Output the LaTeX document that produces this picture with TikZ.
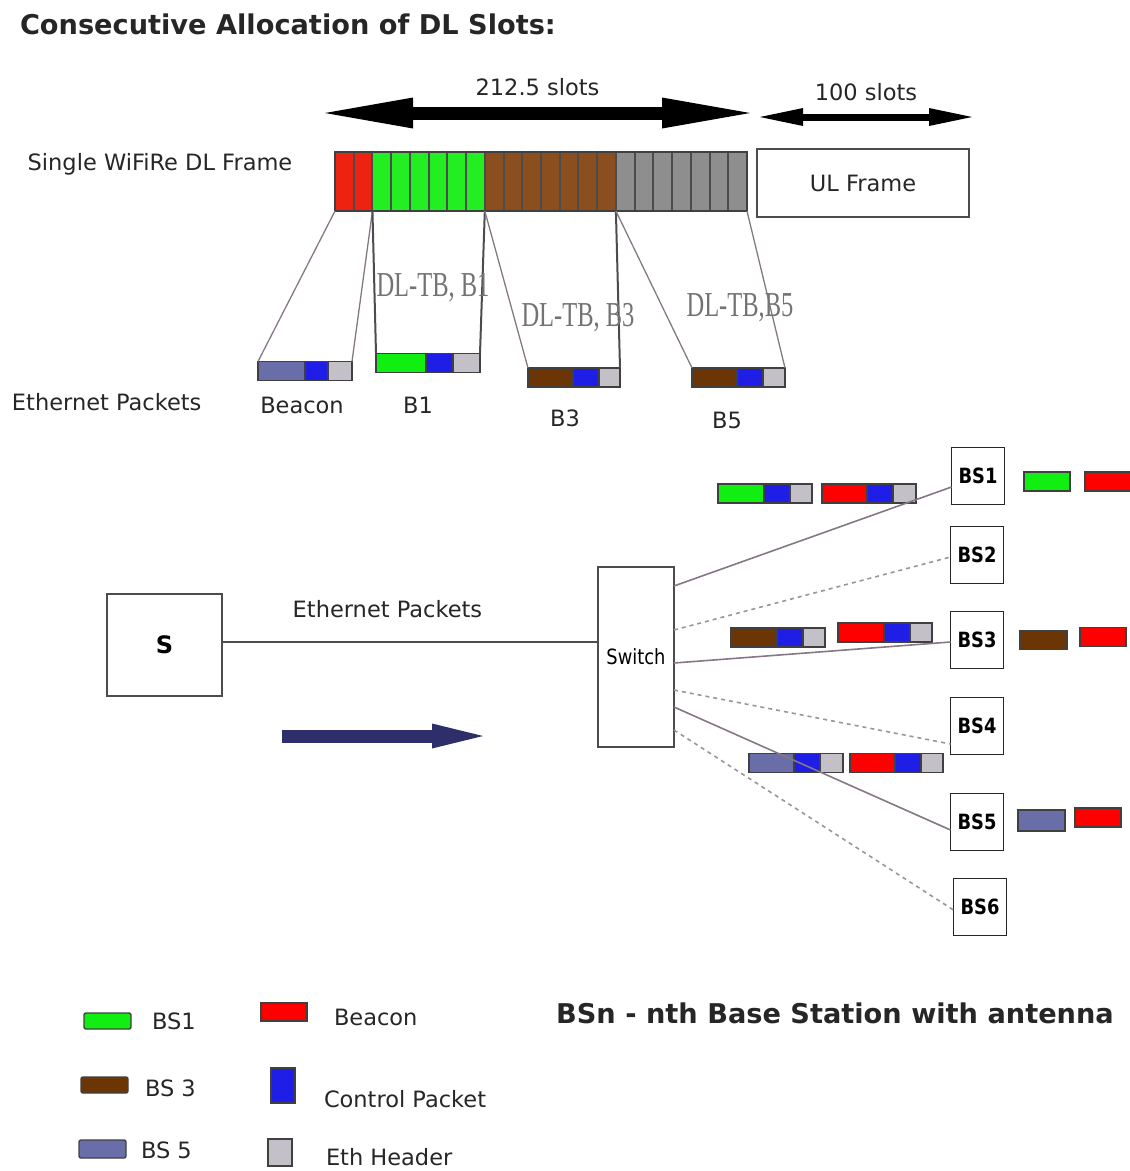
\documentclass[tikz,border=0pt]{standalone}
\usepackage{fontspec}
\setmainfont{DejaVu Sans}
\newfontfamily\narrowfont[FakeStretch=0.85]{DejaVu Sans}
\newfontfamily\tbfont[FakeStretch=0.7]{Liberation Serif}
\usetikzlibrary{positioning,arrows.meta,calc}

\definecolor{slotred}{HTML}{EE2211}
\definecolor{slotgreen}{HTML}{22EE22}
\definecolor{slotbrown}{HTML}{8B4E1E}
\definecolor{slotgrey}{HTML}{8E8E8E}
\definecolor{pktgreen}{HTML}{11EE11}
\definecolor{pktred}{HTML}{FF0000}
\definecolor{pktbrown}{HTML}{6B3505}
\definecolor{pktslate}{HTML}{6A6EA8}
\definecolor{ctrlblue}{HTML}{1E1EE6}
\definecolor{hdrgrey}{HTML}{C4C0C8}
\definecolor{linkgrey}{HTML}{857885}
\definecolor{flownavy}{HTML}{2E2E6A}

\begin{document}
\begin{tikzpicture}[x=1pt, y=-1pt,
  every node/.style={inner sep=0pt, outer sep=0pt},
  txt/.style={font=\fontsize{22.5}{26}\selectfont, text=black!85},
  heading/.style={font=\bfseries\fontsize{27.2}{31}\selectfont, text=black!85},
  tblabel/.style={font=\tbfont\fontsize{35}{38}\selectfont, text=black!55},
  slotbox/.style={draw=black!70, line width=2pt, minimum width=18.727pt, minimum height=59pt},
  payload/.style={draw=black!75, line width=1.4pt, minimum height=19pt, minimum width=46pt},
  framebox/.style={draw=black!70, line width=2pt, fill=white},
  bsbox/.style={draw=black!85, line width=1.5pt, minimum width=53pt, minimum height=57pt,
                font=\narrowfont\bfseries\fontsize{21}{24}\selectfont},
  thinline/.style={draw=linkgrey, line width=1.3pt},
  darkline/.style={draw=black!70, line width=2pt},
  link/.style={draw=linkgrey, line width=1.6pt},
  idlelink/.style={draw=linkgrey!80, line width=1.6pt, dash pattern=on 4pt off 4pt}
]
  \useasboundingbox (0,0) rectangle (1130,1171);

  % ---- DL frame
  \node[heading, anchor=west] (title) at (20,24) {Consecutive Allocation of DL Slots:};
  \node[txt] (dlname) at (160,164) {Single WiFiRe DL Frame};
  \foreach \i in {1,2}
    \node[slotbox, fill=slotred] (slot\i) at ({335+18.727*(\i-0.5)},181.5) {};
  \foreach \i in {3,...,8}
    \node[slotbox, fill=slotgreen] (slot\i) at ({335+18.727*(\i-0.5)},181.5) {};
  \foreach \i in {9,...,15}
    \node[slotbox, fill=slotbrown] (slot\i) at ({335+18.727*(\i-0.5)},181.5) {};
  \foreach \i in {16,...,22}
    \node[slotbox, fill=slotgrey] (slot\i) at ({335+18.727*(\i-0.5)},181.5) {};
  \draw[line width=2pt, black!75] (slot1.north west) rectangle (slot22.south east);
  \node[framebox, txt, minimum width=212pt, minimum height=68pt] (ulframe) at (863,183) {UL Frame};

  \coordinate (dlL) at (325,113);
  \coordinate (dlR) at (750,113);
  \draw[line width=13pt, {Triangle[length=88pt, width=31pt, line width=0pt]}-{Triangle[length=88pt, width=31pt, line width=0pt]}]
    (dlL) -- node[txt, above=17pt] (dllen) {212.5 slots} (dlR);
  \coordinate (ulL) at (760,117);
  \coordinate (ulR) at (972,117);
  \draw[line width=7pt, {Triangle[length=43pt, width=18pt, line width=0pt]}-{Triangle[length=43pt, width=18pt, line width=0pt]}]
    (ulL) -- node[txt, above=16pt] (ullen) {100 slots} (ulR);

  % ---- ethernet packets: payload, control packet, eth header
  \foreach \nm/\px/\py/\col/\wp/\wc/\wh in {
      bcn/258/371/pktslate/47/23/24,
      b1/376/363/pktgreen/50/27/27,
      b3/528/377.5/pktbrown/45/26/21,
      b5/692/377.5/pktbrown/45/26/22,
      tx1g/718/493.5/pktgreen/46/26/22,
      tx1r/822/493.5/pktred/45/26/23,
      tx3b/731/637.5/pktbrown/46/26/22,
      tx3r/838/632.5/pktred/46/26/22,
      tx5s/749/763/pktslate/45/26/23,
      tx5r/850/763/pktred/45/26/22} {
    \node[payload, fill=\col, minimum width=\wp pt, anchor=west] (\nm) at (\px,\py) {};
    \node[payload, fill=ctrlblue, minimum width=\wc pt, right=0pt of \nm] (\nm-c) {};
    \node[payload, fill=hdrgrey, minimum width=\wh pt, right=0pt of \nm-c] (\nm-h) {};
  }

  \draw[thinline] (slot1.south west) -- (bcn.north west);
  \draw[thinline] (slot2.south east) -- (bcn-h.north east);
  \draw[darkline] (slot3.south west) -- (b1.north west);
  \draw[darkline] (slot8.south east) -- (b1-h.north east);
  \draw[thinline] (slot9.south west) -- (b3.north west);
  \draw[darkline] (slot15.south east) -- (b3-h.north east);
  \draw[thinline] (slot16.south west) -- (b5.north west);
  \draw[thinline] (slot22.south east) -- (b5-h.north east);

  \node[tblabel] (tb1) at (433,288) {DL-TB, B1};
  \node[tblabel] (tb3) at (578,318) {DL-TB, B3};
  \node[tblabel] (tb5) at (740,308) {DL-TB,B5};

  \node[txt, anchor=west] (ethlbl) at (12,402) {Ethernet Packets};
  \node[txt] (bcnlbl) at (302,405) {Beacon};
  \node[txt] (b1lbl) at (418,405) {B1};
  \node[txt] (b3lbl) at (565,418) {B3};
  \node[txt] (b5lbl) at (727,420) {B5};

  % ---- source, switch and base stations
  \node[framebox, minimum width=115pt, minimum height=102pt,
        font=\bfseries\fontsize{24}{28}\selectfont] (src) at (164.5,644.5) {S};
  \node[framebox, minimum width=76pt, minimum height=180pt,
        font=\narrowfont\fontsize{21}{24}\selectfont] (switch) at (636,657) {Switch};
  \draw[darkline] ($(src.east)+(0,-3)$) -- node[txt, pos=0.44, above=24pt] (ethlbl2) {Ethernet Packets}
    ($(src.east -| switch.west)+(0,-3)$);

  \node[bsbox] (bs1) at (978,476) {BS1};
  \node[bsbox] (bs2) at (977,555) {BS2};
  \node[bsbox] (bs3) at (977,640) {BS3};
  \node[bsbox] (bs4) at (977,726) {BS4};
  \node[bsbox] (bs5) at (977,822) {BS5};
  \node[bsbox] (bs6) at (980,907) {BS6};

  \draw[link] ($(switch.north east)+(0,19)$) -- ($(bs1.west)+(0,11)$);
  \draw[idlelink] ($(switch.north east)+(0,63)$) -- ($(bs2.west)+(0,2)$);
  \draw[link] ($(switch.north east)+(0,96)$) -- ($(bs3.west)+(0,2)$);
  \draw[idlelink] ($(switch.north east)+(0,123)$) -- ($(bs4.west)+(0,18)$);
  \draw[link] ($(switch.north east)+(0,140)$) -- ($(bs5.west)+(0,8)$);
  \draw[idlelink] ($(switch.north east)+(0,163)$) -- ($(bs6.west)+(0,3)$);

  \coordinate (flowL) at (282,736);
  \coordinate (flowR) at (483,736);
  \draw[flownavy, line width=13pt, -{Triangle[length=51pt, width=25pt, line width=0pt]}] (flowL) -- (flowR);

  % ---- payloads after the base stations
  \node[payload, fill=pktgreen, anchor=west] (rx1g) at (1024,481.5) {};
  \node[payload, fill=pktred, anchor=west] (rx1r) at (1085,481.5) {};
  \node[payload, fill=pktbrown, anchor=west, minimum width=47pt] (rx3b) at (1020,640) {};
  \node[payload, fill=pktred, anchor=west] (rx3r) at (1080,637) {};
  \node[payload, fill=pktslate, anchor=west, minimum width=47pt, minimum height=21pt] (rx5s) at (1018,820.5) {};
  \node[payload, fill=pktred, anchor=west] (rx5r) at (1075,817.5) {};

  % ---- legend
  \node[payload, fill=pktgreen, minimum width=47pt, minimum height=16pt, rounded corners=2pt] (lgbs1) at (107.5,1021) {};
  \node[payload, fill=pktbrown, minimum width=47pt, minimum height=16pt, rounded corners=2pt] (lgbs3) at (104.5,1085) {};
  \node[payload, fill=pktslate, minimum width=47pt, minimum height=18pt, rounded corners=2pt] (lgbs5) at (102.5,1149) {};
  \node[payload, fill=pktred, minimum width=46pt, minimum height=18pt] (lgbcn) at (284,1012) {};
  \node[payload, fill=ctrlblue, minimum width=24pt, minimum height=35pt] (lgctrl) at (283,1085.5) {};
  \node[payload, fill=hdrgrey, minimum width=24pt, minimum height=27pt] (lghdr) at (280,1152.5) {};

  \node[txt, anchor=west] (lbs1) at (152,1021) {BS1};
  \node[txt, anchor=west] (lbs3) at (145,1088) {BS 3};
  \node[txt, anchor=west] (lbs5) at (141,1150) {BS 5};
  \node[txt, anchor=west] (lbcn) at (334,1017) {Beacon};
  \node[txt, anchor=west] (lctrl) at (324,1099) {Control Packet};
  \node[txt, anchor=west] (lhdr) at (326,1157) {Eth Header};
  \node[heading] (bsnote) at (835,1013) {BSn - nth Base Station with antenna};
\end{tikzpicture}
\end{document}
